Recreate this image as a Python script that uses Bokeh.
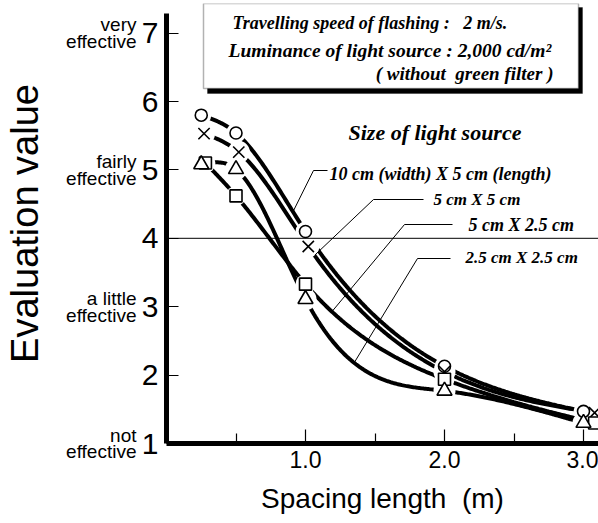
import numpy as np
from bokeh.plotting import figure
from bokeh.models import Range1d, FixedTicker, Span, Label, BoxAnnotation, LinearAxis
from bokeh.embed import file_html
from bokeh.resources import INLINE

# ---------------- data ----------------
series_names = ["10 cm (width) X 5 cm (length)", "5 cm X 5 cm", "5 cm X 2.5 cm", "2.5 cm X 2.5 cm"]
spacing_circle = [0.25, 0.50, 1.00, 2.00, 3.00]
eval_circle = [5.80, 5.54, 4.10, 2.13, 1.47]
spacing_cross = [0.27, 0.52, 1.02, 2.00, 3.08]
eval_cross = [5.53, 5.26, 3.88, 2.05, 1.45]
spacing_square = [0.28, 0.50, 1.00, 2.00, 3.08]
eval_square = [5.10, 4.62, 3.33, 1.94, 1.30]
spacing_triangle = [0.25, 0.50, 1.00, 2.00, 3.00]
eval_triangle = [5.08, 5.01, 3.11, 1.77, 1.30]

y_ticks = [1, 2, 3, 4, 5, 6, 7]
x_ticks = [1.0, 2.0, 3.0]
x_minor_ticks = [0.5, 1.5, 2.5]
x_tick_labels = {1.0: "1.0", 2.0: "2.0", 3.0: "3.0"}
rating_ticks = [1, 3, 5, 7]
rating_words = {7: "very\neffective", 5: "fairly\neffective",
                3: "a little\neffective", 1: "not\neffective"}
reference_level = 4
info_lines = ["Travelling speed of flashing :\u00a0\u00a0 2 m/s.",
              "Luminance of light source : 2,000 cd/m\u00b2",
              "( without\u00a0 green filter )"]
legend_title = "Size of light source"
x_title = "Spacing length\u00a0 (m)"
y_title = "Evaluation value"

# ---------------- layout ----------------
W, H = 598, 523
FL, FT, FB = 166, 3, 443
AXIS_TOP = 13
PXX, PXY = 139.0, 68.4


def px2x(px):
    return (px - FL) / PXX


def px2y(py):
    return 1 + (FB - py) / PXY


def natural_spline(xs, ys, n=300):
    x = np.asarray(xs, float)
    y = np.asarray(ys, float)
    k = len(x)
    h = np.diff(x)
    d = np.diff(y) / h
    A = np.zeros((k, k))
    r = np.zeros(k)
    A[0, 0] = A[-1, -1] = 1
    for i in range(1, k - 1):
        A[i, i - 1] = h[i - 1]
        A[i, i] = 2 * (h[i - 1] + h[i])
        A[i, i + 1] = h[i]
        r[i] = 6 * (d[i] - d[i - 1])
    M = np.linalg.solve(A, r)

    def ev(xx):
        xx = np.asarray(xx, float)
        idx = np.clip(np.searchsorted(x, xx, side="right") - 1, 0, k - 2)
        x0, x1, hh = x[idx], x[idx + 1], h[idx]
        return ((M[idx] * (x1 - xx) ** 3 + M[idx + 1] * (xx - x0) ** 3) / (6 * hh)
                + (y[idx] / hh - M[idx] * hh / 6) * (x1 - xx)
                + (y[idx + 1] / hh - M[idx + 1] * hh / 6) * (xx - x0))

    xx = np.linspace(x[0], x[-1], n)
    return xx, ev(xx), ev


p = figure(width=W, height=H, output_backend="svg", toolbar_location=None,
           x_range=Range1d(0, (W - FL) / PXX), y_range=Range1d(1, px2y(FT)),
           min_border_left=FL, min_border_right=0, min_border_top=FT, min_border_bottom=H - FB)
p.outline_line_color = None
p.xgrid.visible = False
p.ygrid.visible = False
p.background_fill_color = "white"

SANS = "Liberation Sans"
SERIF = "Liberation Serif"

# x axis
p.xaxis.ticker = FixedTicker(ticks=x_ticks, minor_ticks=x_minor_ticks)
p.xaxis.major_label_overrides = x_tick_labels
p.xaxis.axis_line_width = 5
p.xaxis.major_tick_in = 14
p.xaxis.major_tick_out = 0
p.xaxis.minor_tick_in = 10
p.xaxis.minor_tick_out = 0
p.xaxis.major_tick_line_width = 1.2
p.xaxis.minor_tick_line_width = 1.2
p.xaxis.major_label_text_font = SANS
p.xaxis.major_label_text_font_size = "23px"
p.xaxis.major_label_text_color = "black"
p.xaxis.major_label_standoff = 7
p.xaxis.axis_label = x_title
p.xaxis.axis_label_text_font = SANS
p.xaxis.axis_label_text_font_size = "28px"
p.xaxis.axis_label_text_font_style = "normal"
p.xaxis.axis_label_text_color = "black"
p.xaxis.axis_label_standoff = 12

# numeric y axis
p.yaxis.ticker = FixedTicker(ticks=y_ticks)
p.yaxis.bounds = (1, px2y(AXIS_TOP))
p.yaxis.axis_line_width = 5
p.yaxis.major_tick_in = 12
p.yaxis.major_tick_out = 0
p.yaxis.minor_tick_line_color = None
p.yaxis.major_tick_line_width = 1.2
p.yaxis.major_label_text_font = SANS
p.yaxis.major_label_text_font_size = "30px"
p.yaxis.major_label_text_color = "black"
p.yaxis.major_label_standoff = 8

# qualitative words axis (outer left) carrying the y title
wax = LinearAxis(ticker=FixedTicker(ticks=rating_ticks), major_label_overrides=rating_words,
                 axis_line_color=None, major_tick_line_color=None, minor_tick_line_color=None,
                 major_label_text_font=SANS, major_label_text_font_size="19px",
                 major_label_text_line_height=0.8,
                 major_label_text_color="black", major_label_standoff=-4,
                 axis_label=y_title, axis_label_text_font=SANS, axis_label_text_font_size="38px",
                 axis_label_text_font_style="normal", axis_label_text_color="black",
                 axis_label_standoff=17)
p.add_layout(wax, "left")

p.add_layout(Span(location=reference_level, dimension="width", line_color="black", line_width=1))

# curves
series = [
    (spacing_circle, eval_circle, "circle", 12, 0.91),
    (spacing_cross, eval_cross, "x", 16, 1.065),
    (spacing_square, eval_square, "square", 12, 1.19),
    (spacing_triangle, eval_triangle, "triangle", 15, 1.35),
]
evaluators = []
for xs, ys, mk, sz, _ in series:
    xx, yy, ev = natural_spline(xs, ys)
    evaluators.append(ev)
    p.line(xx, yy, line_color="black", line_width=4)

# white halos to create gaps around markers
for xs, ys, mk, sz, _ in series:
    p.scatter(xs, ys, marker="circle", size=min(sz, 14) + 8, fill_color="white", line_color=None)
for xs, ys, mk, sz, _ in series:
    p.scatter(xs, ys, marker=mk, size=sz, fill_color="white", line_color="black", line_width=1.6)

# top information box (with drop shadow)
p.add_layout(BoxAnnotation(left=px2x(207), right=px2x(582), top=px2y(7), bottom=px2y(93),
                           fill_color="black", fill_alpha=1, line_color="black"))
p.add_layout(BoxAnnotation(left=px2x(203), right=px2x(578), top=px2y(3), bottom=px2y(88),
                           fill_color="white", fill_alpha=1, line_color="black", line_width=1.5))


def add_text(px, py, txt, size, font=SERIF, style="bold italic", align="left"):
    p.add_layout(Label(x=px2x(px), y=px2y(py), text=txt, text_font=font,
                       text_font_size=f"{size}px", text_font_style=style,
                       text_align=align, text_baseline="middle", text_color="black"))


add_text(232, 22, info_lines[0], 18)
add_text(228, 50, info_lines[1], 19.5)
add_text(553, 73, info_lines[2], 19, align="right")
add_text(348, 132, legend_title, 22)

# leader lines and series labels
leader_geom = [((313, 170), (327, 170), (329, 173), 18),
               ((373, 199), (423, 199), (433, 199), 17),
               ((404, 224), (452, 224), (468, 224), 18),
               ((417, 258), (450, 258), (465, 257), 17)]
for (xs, ys, mk, sz, anchor_x), ev, name, (elbow, end, tpos, fs) in zip(series, evaluators, series_names, leader_geom):
    ay = float(ev(anchor_x))
    p.line([anchor_x, px2x(elbow[0]), px2x(end[0])], [ay, px2y(elbow[1]), px2y(end[1])],
           line_color="black", line_width=1)
    add_text(tpos[0], tpos[1], name, fs)

open("out.html", "w").write(file_html(p, INLINE))
